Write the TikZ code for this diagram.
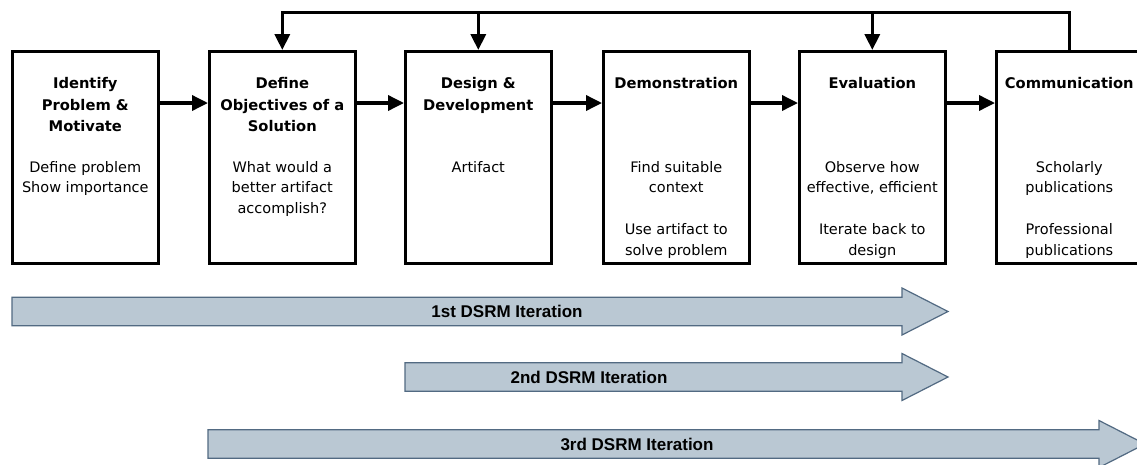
\documentclass[tikz,border=0pt]{standalone}
\usepackage{fontspec}
\setmainfont{DejaVu Sans}
\newfontfamily\arialfont{Liberation Sans}
\usetikzlibrary{arrows.meta}
\definecolor{iterfill}{RGB}{186,200,211}
\definecolor{iterborder}{RGB}{82,106,130}
\newcommand\mystrut{\rule{0pt}{12pt}}
\begin{document}
\begin{tikzpicture}[x=1pt,y=-1pt,
  box/.style={draw, line width=2.6pt, minimum width=146pt, minimum height=212pt, anchor=north west, inner sep=0pt},
  ttl/.style={anchor=north, align=center, inner sep=0pt, font=\fontsize{14.7}{21.5}\selectfont\bfseries},
  bdy/.style={anchor=north, align=center, inner sep=0pt, font=\fontsize{14.5}{20.75}\selectfont},
  conn/.style={line width=3.5pt, line join=miter, -{Triangle[length=16pt,width=15pt]}},
  iter/.style={draw=iterborder, fill=iterfill, line width=1.2pt, line join=miter},
  itl/.style={font=\arialfont\bfseries\fontsize{17}{20}\selectfont, inner sep=0pt}]
\useasboundingbox (0,0) rectangle (1137,464);
\fill[white] (0,0) rectangle (1137,464);

% boxes
\node[box] (b1) at (11,50) {};
\node[box] (b2) at (208,50) {};
\node[box] (b3) at (404,50) {};
\node[box] (b4) at (602,50) {};
\node[box] (b5) at (798,50) {};
\node[box] (b6) at (995,50) {};

% titles
\node[ttl] (t1) at ([yshift=-26.4pt]b1.north) {\mystrut Identify\\Problem \&\\Motivate};
\node[ttl] (t2) at ([yshift=-26.4pt]b2.north) {\mystrut Define\\Objectives of a\\Solution};
\node[ttl] (t3) at ([yshift=-26.4pt]b3.north) {\mystrut Design \&\\Development};
\node[ttl] (t4) at ([yshift=-26.4pt]b4.north) {\mystrut Demonstration};
\node[ttl] (t5) at ([yshift=-26.4pt]b5.north) {\mystrut Evaluation};
\node[ttl] (t6) at ([yshift=-26.4pt]b6.north) {\mystrut Communication};

% bodies
\node[bdy] (d1) at ([yshift=-110pt]b1.north) {\mystrut Define problem\\Show importance};
\node[bdy] (d2) at ([yshift=-110pt]b2.north) {\mystrut What would a\\better artifact\\accomplish?};
\node[bdy] (d3) at ([yshift=-110pt]b3.north) {\mystrut Artifact};
\node[bdy] (d4) at ([yshift=-110pt]b4.north) {\mystrut Find suitable\\context\\[20.75pt]Use artifact to\\solve problem};
\node[bdy] (d5) at ([yshift=-110pt]b5.north) {\mystrut Observe how\\effective, efficient\\[20.75pt]Iterate back to\\design};
\node[bdy] (d6) at ([yshift=-110pt]b6.north) {\mystrut Scholarly\\publications\\[20.75pt]Professional\\publications};

% forward connectors
\draw[conn] ([yshift=-53pt]b1.north east) -- ([yshift=-53pt]b2.north west);
\draw[conn] ([yshift=-53pt]b2.north east) -- ([yshift=-53pt]b3.north west);
\draw[conn] ([yshift=-53pt]b3.north east) -- ([yshift=-53pt]b4.north west);
\draw[conn] ([yshift=-53pt]b4.north east) -- ([yshift=-53pt]b5.north west);
\draw[conn] ([yshift=-53pt]b5.north east) -- ([yshift=-53pt]b6.north west);

% feedback loop
\coordinate (fb) at (0,12.5);
\draw[conn] (b6.north) |- (fb -| b2.north) -- (b2.north);
\draw[conn] (fb -| b3.north) -- (b3.north);
\draw[conn] (fb -| b5.north) -- (b5.north);

% iteration arrows
\path[iter] (12,297.25) -- (902,297.25) -- (902,288) -- (948,311.5) -- (902,335) -- (902,325.75) -- (12,325.75) -- cycle;
\path[iter] (405,362.75) -- (902,362.75) -- (902,353.5) -- (948,377) -- (902,400.5) -- (902,391.25) -- (405,391.25) -- cycle;
\path[iter] (208,429.75) -- (1099,429.75) -- (1099,420.5) -- (1145,444) -- (1099,467.5) -- (1099,458.25) -- (208,458.25) -- cycle;
\node[itl] (l1) at (507,311.5) {1st DSRM Iteration};
\node[itl] (l2) at (589,377) {2nd DSRM Iteration};
\node[itl] (l3) at (637,444) {3rd DSRM Iteration};
\end{tikzpicture}
\end{document}
